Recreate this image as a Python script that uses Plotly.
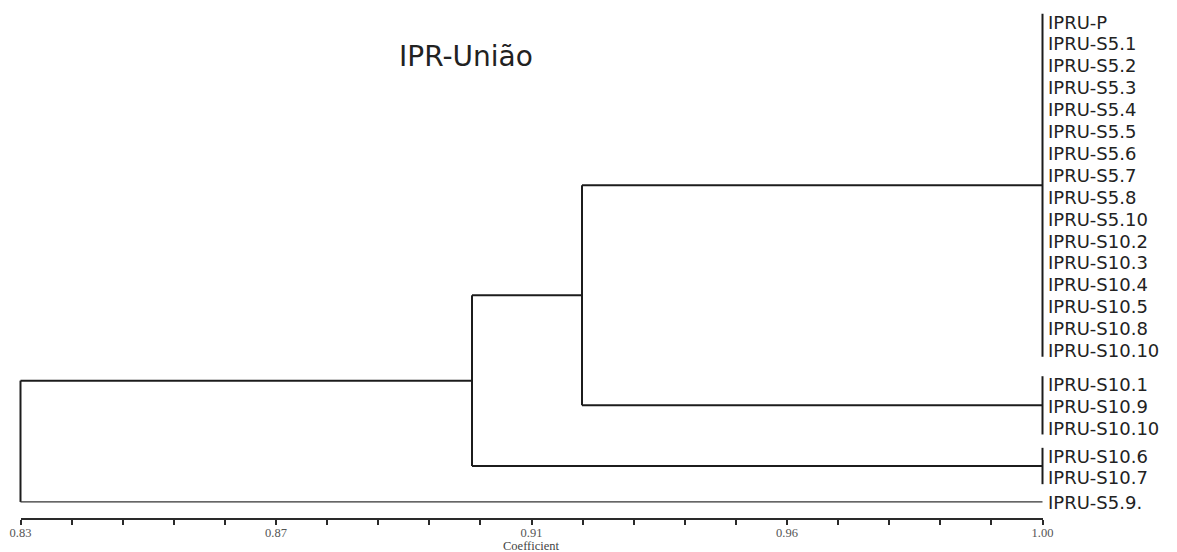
import plotly.graph_objects as go

# ---------------- data ----------------
title_text = "IPR-União"
cluster1 = ["IPRU-P", "IPRU-S5.1", "IPRU-S5.2", "IPRU-S5.3", "IPRU-S5.4", "IPRU-S5.5",
            "IPRU-S5.6", "IPRU-S5.7", "IPRU-S5.8", "IPRU-S5.10", "IPRU-S10.2", "IPRU-S10.3",
            "IPRU-S10.4", "IPRU-S10.5", "IPRU-S10.8", "IPRU-S10.10"]
cluster2 = ["IPRU-S10.1", "IPRU-S10.9", "IPRU-S10.10"]
cluster3 = ["IPRU-S10.6", "IPRU-S10.7"]
cluster4 = ["IPRU-S5.9."]
clusters = [cluster1, cluster2, cluster3, cluster4]
cluster_coef = [1.00, 1.00, 1.00, 1.00]      # similarity within each leaf group
merge_A = 0.9234   # cluster1 + cluster2
merge_B = 0.9051   # (cluster1+cluster2) + cluster3
merge_root = 0.83  # everything + cluster4
axis_min, axis_max = 0.83, 1.00
tick_values = [0.83, 0.8725, 0.915, 0.9575, 1.00]
tick_labels = ["0.83", "0.87", "0.91", "0.96", "1.00"]
minor_step = 0.0085
axis_title = "Coefficient"

# ---------------- layout helpers ----------------
W, H = 1177, 552
L_PX, R_PX = 20.5, 1042.5          # pixel positions of axis_min / axis_max
ROW0_PX, ROW_PX = 21.0, 21.9       # pixel of first leaf row, pixel per row
GROUP_SHIFT = [0.0, 0.55, 0.82, 0.96]  # extra vertical spacing before each group (rows)
EXT = 0.33                          # bar overhang at group ends (rows)

span = axis_max - axis_min
xmin = axis_min - L_PX / (R_PX - L_PX) * span
xmax = axis_max + (W - R_PX) / (R_PX - L_PX) * span
ytop = -ROW0_PX / ROW_PX
ybot = (H - ROW0_PX) / ROW_PX

# rows of leaves
rows = []
idx = 0
for ci, cl in enumerate(clusters):
    r = [idx + i + GROUP_SHIFT[ci] for i in range(len(cl))]
    rows.append(r)
    idx += len(cl)

centers = [(r[0] + r[-1]) / 2 for r in rows]
yA = (centers[0] + centers[1]) / 2
yB = (yA + centers[2]) / 2

LINE_C = "#1c1c1c"
xs, ys = [], []

def seg(x0, y0, x1, y1):
    xs.extend([x0, x1, None])
    ys.extend([y0, y1, None])

# leaf-group bars
for ci in range(3):
    r = rows[ci]
    seg(cluster_coef[ci], r[0] - EXT, cluster_coef[ci], r[-1] + EXT)
# horizontals to groups
seg(merge_A, centers[0], cluster_coef[0], centers[0])
seg(merge_A, centers[1], cluster_coef[1], centers[1])
seg(merge_B, centers[2], cluster_coef[2], centers[2])
# node A
seg(merge_A, centers[0], merge_A, centers[1])
seg(merge_B, yA, merge_A, yA)
# node B
seg(merge_B, yA, merge_B, centers[2])
seg(merge_root, yB, merge_B, yB)
# root
seg(merge_root, yB, merge_root, rows[3][0])

fig = go.Figure()
fig.add_trace(go.Scatter(x=xs, y=ys, mode="lines",
                         line=dict(color=LINE_C, width=2), hoverinfo="skip",
                         showlegend=False))
# singleton leaf line (thin)
fig.add_trace(go.Scatter(x=[merge_root, cluster_coef[3]], y=[rows[3][0], rows[3][0]],
                         mode="lines", line=dict(color="#333333", width=1.2),
                         hoverinfo="skip", showlegend=False))
# dummy trace for the coefficient axis
fig.add_trace(go.Scatter(x=[axis_min, axis_max], y=[0, 0], xaxis="x2", yaxis="y2",
                         mode="markers", marker=dict(opacity=0), hoverinfo="skip",
                         showlegend=False))

annotations = []
for ci, cl in enumerate(clusters):
    for name, r in zip(cl, rows[ci]):
        annotations.append(dict(x=cluster_coef[ci], y=r, xref="x", yref="y",
                                text=name, showarrow=False, xanchor="left",
                                yanchor="middle", xshift=3, yshift=-1,
                                font=dict(family="DejaVu Sans", size=18, color="#222222")))
annotations.append(dict(x=466 / W, y=1 - 56 / H, xref="paper", yref="paper",
                        text=title_text, showarrow=False, xanchor="center",
                        yanchor="middle",
                        font=dict(family="DejaVu Sans", size=28, color="#222222")))
annotations.append(dict(x=(tick_values[2]), y=1 - 546 / H, xref="x2", yref="paper",
                        text=axis_title, showarrow=False, xanchor="center",
                        yanchor="middle",
                        font=dict(family="Liberation Serif", size=12.5, color="#444444")))

axis_y = 1 - 518 / H
fig.update_layout(
    width=W, height=H,
    margin=dict(l=0, r=0, t=0, b=0, autoexpand=False),
    paper_bgcolor="white", plot_bgcolor="rgba(0,0,0,0)",
    showlegend=False,
    xaxis=dict(domain=[0, 1], range=[xmin, xmax], visible=False, fixedrange=True,
               automargin=False),
    yaxis=dict(domain=[0, 1], range=[ybot, ytop], visible=False, fixedrange=True,
               automargin=False),
    xaxis2=dict(domain=[L_PX / W, R_PX / W], range=[axis_min, axis_max], anchor="y2",
                side="bottom", showline=True, linecolor="#2a2a2a", linewidth=2,
                showgrid=False, zeroline=False, automargin=False,
                ticks="outside", ticklen=5, tickwidth=2, tickcolor="#2a2a2a",
                tickvals=tick_values, ticktext=tick_labels, ticklabelstandoff=-3,
                tickfont=dict(family="Liberation Serif", size=12.5, color="#555555"),
                minor=dict(tick0=axis_min, dtick=minor_step, ticks="outside",
                           ticklen=5, tickwidth=2, tickcolor="#2a2a2a", showgrid=False),
                fixedrange=True),
    yaxis2=dict(domain=[axis_y, axis_y + 0.02], range=[0, 1], visible=False,
                anchor="x2", fixedrange=True, automargin=False),
    annotations=annotations,
)

fig.write_html("out.html")
